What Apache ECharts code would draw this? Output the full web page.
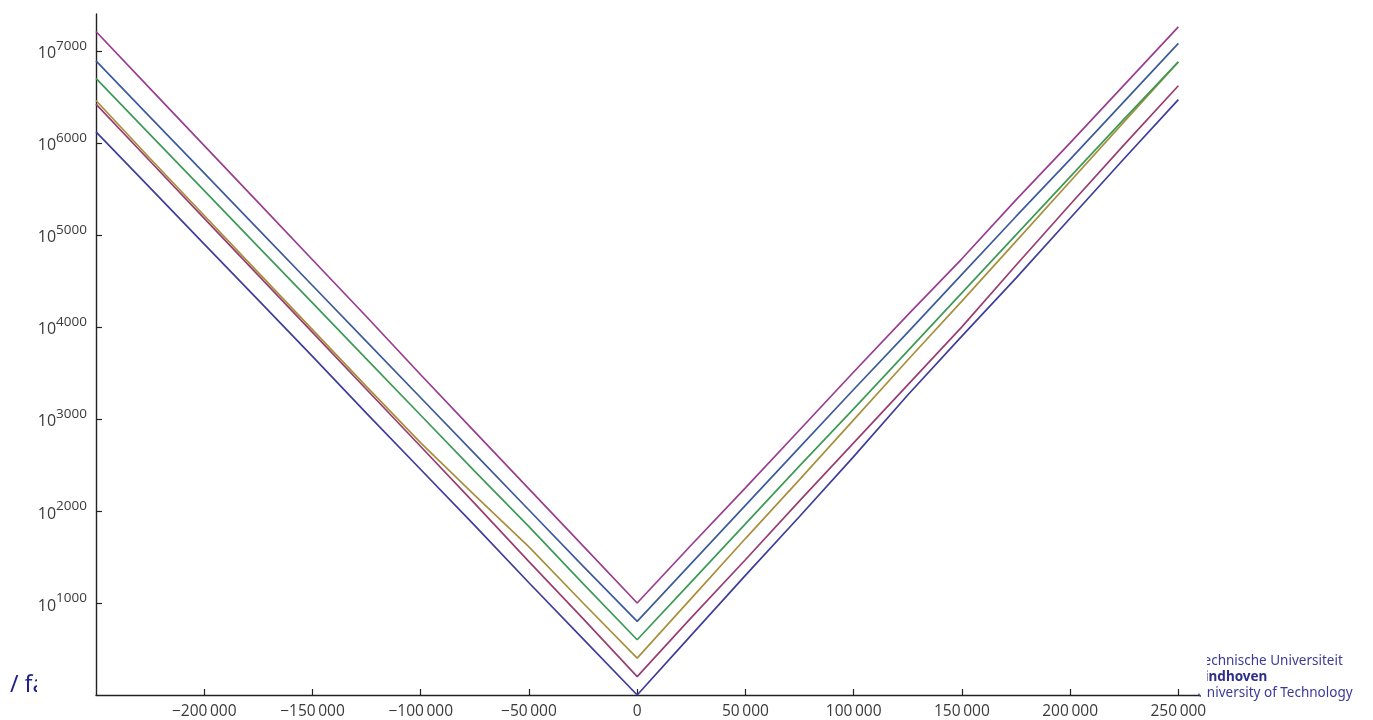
<!DOCTYPE html>
<html>
<head>
<meta charset="utf-8">
<script src="https://cdn.jsdelivr.net/npm/echarts@6/dist/echarts.min.js"></script>
<style>
html,body{margin:0;padding:0;background:#fff;}
#chart{width:1373px;height:720px;}
</style>
</head>
<body>
<div id="chart"></div>
<script>
// x positions
const xValues = [-250000,-225000,-200000,-175000,-150000,-125000,-100000,-75000,-50000,-25000,0,
  25000,50000,75000,100000,125000,150000,175000,200000,225000,250000];
// y values are base-10 exponents
const seriesNavy    = [6120,5510,4900,4290,3680,3060,2450,1840,1220,610,0,650,1300,1940,2590,3260,3900,4530,5180,5830,6470];
const seriesMaroon  = [6420,5800,5180,4560,3940,3320,2700,2080,1450,830,200,840,1470,2110,2740,3370,4000,4670,5330,5980,6620];
const seriesOlive   = [6460,5830,5210,4590,3970,3350,2740,2170,1610,1000,400,1050,1700,2340,2990,3640,4280,4930,5580,6230,6880];
const seriesGreen   = [6700,6090,5480,4870,4260,3650,3040,2430,1830,1210,600,1230,1860,2490,3110,3740,4370,5000,5630,6260,6880];
const seriesBlue    = [6890,6280,5670,5060,4450,3840,3230,2620,2010,1400,800,1430,2060,2690,3320,3940,4570,5200,5820,6450,7080];
const seriesPurple  = [7210,6590,5970,5350,4730,4110,3480,2860,2240,1620,1000,1630,2250,2880,3510,4130,4740,5380,6000,6630,7260];

const xTicks = [-200000,-150000,-100000,-50000,0,50000,100000,150000,200000,250000];
const yTicks = [1000,2000,3000,4000,5000,6000,7000];

const chart = echarts.init(document.getElementById('chart'));

function pairs(ys){ return xValues.map((x,i)=>[x, ys[i]]); }
function fmtX(v){
  if (v === 0) return '0';
  const a = Math.abs(v).toString().replace(/\B(?=(\d{3})+(?!\d))/g, '\u2009');
  return (v < 0 ? '\u2212' : '') + a;
}

const lines = [
  {name:'n0', data: seriesNavy, color:'#3f3d99'},
  {name:'n1', data: seriesMaroon, color:'#993d71'},
  {name:'n2', data: seriesOlive, color:'#a88f3d'},
  {name:'n3', data: seriesGreen, color:'#3d9956'},
  {name:'n4', data: seriesBlue, color:'#3d5a99'},
  {name:'n5', data: seriesPurple, color:'#993d8f'}
];

const axisColor = '#222';
const font = '"Open Sans", "Noto Sans", sans-serif';

chart.setOption({
  animation: false,
  backgroundColor: '#fff',
  grid: {left: 96, right: 173, top: 14, bottom: 25, containLabel: false},
  xAxis: {
    type: 'value', min: -250000, max: 260000,
    axisLine: {show: true, onZero: false, lineStyle: {color: axisColor, width: 1.4}},
    axisTick: {show: true, inside: true, length: 6, customValues: xTicks, lineStyle: {color: axisColor, width: 1.2}},
    axisLabel: {show: true, customValues: xTicks, formatter: fmtX, color: '#3a3a3a', fontSize: 15.5, fontFamily: font, margin: 9},
    splitLine: {show: false}
  },
  yAxis: {
    type: 'value', min: 0, max: 7400,
    axisLine: {show: true, onZero: false, lineStyle: {color: axisColor, width: 1.4}},
    axisTick: {show: true, inside: true, length: 6, customValues: yTicks, lineStyle: {color: axisColor, width: 1.2}},
    axisLabel: {
      show: true, customValues: yTicks, margin: 9,
      formatter: v => '{b|10}{s|' + v + '}',
      rich: {
        b: {fontSize: 16, fontFamily: font, color: '#3a3a3a', lineHeight: 17, padding: [6,0,0,0]},
        s: {fontSize: 13.5, fontFamily: font, color: '#3a3a3a', lineHeight: 14, padding: [0,0,9,0]}
      }
    },
    splitLine: {show: false}
  },
  series: lines.map(l => ({
    type: 'line', name: l.name, data: pairs(l.data), showSymbol: false, symbol: 'none',
    lineStyle: {color: l.color, width: 1.7}, itemStyle: {color: l.color}
  })),
  graphic: [
    {type: 'text', left: 10, top: 674, z: 10, style: {text: '/ fa', fontSize: 23, fontFamily: '"Noto Sans", sans-serif', fill: '#20208c'}},
    {type: 'rect', left: 37, top: 668, z: 11, shape: {width: 40, height: 24}, style: {fill: '#fff'}},
    {type: 'text', left: 1197, top: 654, z: 10, style: {text: 'Technische Universiteit', fontSize: 13.5, fontFamily: '"Noto Sans", sans-serif', fill: '#3a3a9a'}},
    {type: 'text', left: 1197, top: 670, z: 10, style: {text: 'Eindhoven', fontSize: 13.5, fontWeight: 'bold', fontFamily: '"Noto Sans", sans-serif', fill: '#2e2e8a'}},
    {type: 'text', left: 1197, top: 686, z: 10, style: {text: 'University of Technology', fontSize: 13.5, fontFamily: '"Noto Sans", sans-serif', fill: '#3a3a9a'}},
    {type: 'rect', left: 1190, top: 650, z: 11, shape: {width: 17, height: 43.5}, style: {fill: '#fff'}},
    {type: 'rect', left: 1201, top: 693, z: 11, shape: {width: 6, height: 6}, style: {fill: '#fff'}}
  ]
});
</script>
</body>
</html>
